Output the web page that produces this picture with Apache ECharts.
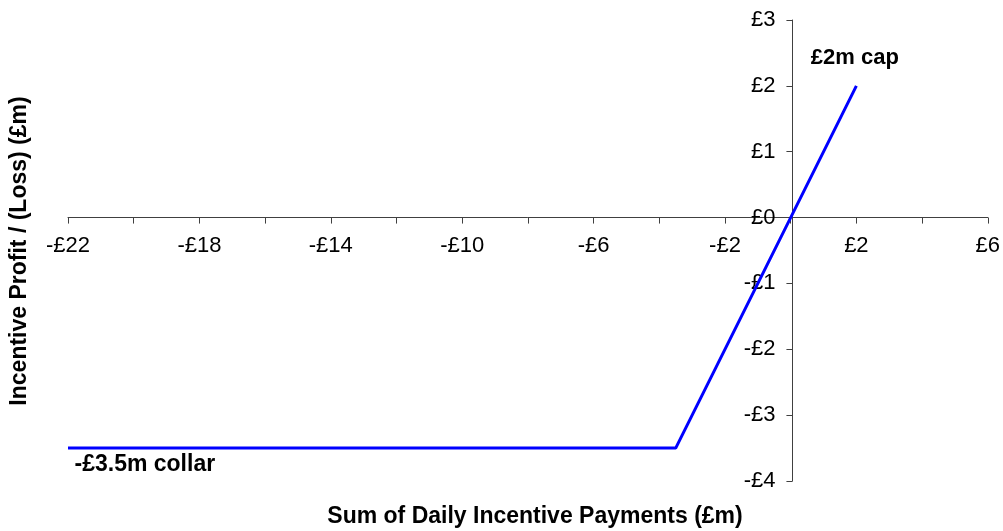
<!DOCTYPE html>
<html>
<head>
<meta charset="utf-8">
<script src="https://cdn.jsdelivr.net/npm/echarts@6/dist/echarts.min.js"></script>
<style>
  html, body { margin: 0; padding: 0; background: #fff; }
  #chart { width: 1003px; height: 531px; }
</style>
</head>
<body>
<div id="chart"></div>
<script>
  // incentive payout curve: collar, slope, cap
  var payments = [-22, -3.5, 2];
  var profit = [-3.5, -3.5, 2];
  var capPoint = [2, 2];
  var collarPoint = [-22, -3.5];
  var xMin = -22, xMax = 6, xStep = 2;
  var yMin = -4, yMax = 3, yStep = 1;

  var font = '"Liberation Sans", Arial, sans-serif';
  var axisColor = '#404040';

  var W = 1003, H = 531;
  var gLeft = 68, gRight = 13, gTop = 20, gBottom = 50;
  var gW = W - gLeft - gRight, gH = H - gTop - gBottom;
  // axes cross at zero, so shift them into the plot
  var xAxisOffset = -(0 - yMin) / (yMax - yMin) * gH;
  var yAxisOffset = -(0 - xMin) / (xMax - xMin) * gW;

  function money(v) {
    return (v < 0 ? '-' : '') + '£' + Math.abs(v);
  }

  var lineData = payments.map(function (x, i) { return [x, profit[i]]; });

  var chart = echarts.init(document.getElementById('chart'));
  chart.setOption({
    animation: false,
    grid: { left: gLeft, right: gRight, top: gTop, bottom: gBottom, containLabel: false },
    xAxis: {
      type: 'value', min: xMin, max: xMax, interval: xStep,
      position: 'bottom', offset: xAxisOffset,
      axisLine: { onZero: false, lineStyle: { color: axisColor, width: 1 } },
      axisTick: { show: true, inside: false, length: 6, lineStyle: { color: axisColor } },
      splitLine: { show: false },
      axisLabel: {
        margin: 17, color: '#000', fontFamily: font, fontSize: 22,
        showMinLabel: true, showMaxLabel: true, hideOverlap: false,
        formatter: function (v) {
          return ((v - xMin) % 4 === 0) ? money(v) : '';
        }
      }
    },
    yAxis: {
      type: 'value', min: yMin, max: yMax, interval: yStep,
      position: 'left', offset: yAxisOffset,
      axisLine: { show: true, onZero: false, lineStyle: { color: axisColor, width: 1 } },
      axisTick: { show: true, inside: false, length: 6, lineStyle: { color: axisColor } },
      splitLine: { show: false },
      axisLabel: {
        margin: 17, color: '#000', fontFamily: font, fontSize: 22,
        hideOverlap: false,
        formatter: money
      }
    },
    graphic: [
      {
        type: 'text', x: 535, y: 517,
        style: {
          text: 'Sum of Daily Incentive Payments (£m)',
          font: 'bold 23px ' + font, fill: '#000',
          textAlign: 'center', textVerticalAlign: 'middle'
        }
      },
      {
        type: 'text', x: 20, y: 251, rotation: Math.PI / 2,
        style: {
          text: 'Incentive Profit / (Loss) (£m)',
          font: 'bold 23px ' + font, fill: '#000',
          textAlign: 'center', textVerticalAlign: 'middle'
        }
      }
    ],
    series: [{
      type: 'line',
      data: lineData,
      showSymbol: false,
      lineStyle: { color: '#0000ff', width: 3 },
      markPoint: {
        symbol: 'circle', symbolSize: 1,
        itemStyle: { color: 'rgba(0,0,0,0)' },
        label: { color: '#000', fontFamily: font, fontSize: 22, fontWeight: 'bold' },
        data: [
          { coord: capPoint, value: '£2m cap', label: { formatter: '£2m cap', position: [-45, -38] } },
          { coord: collarPoint, value: '-£3.5m collar', label: { formatter: '-£3.5m collar', fontSize: 23, position: [7, 6] } }
        ]
      }
    }]
  });
</script>
</body>
</html>
